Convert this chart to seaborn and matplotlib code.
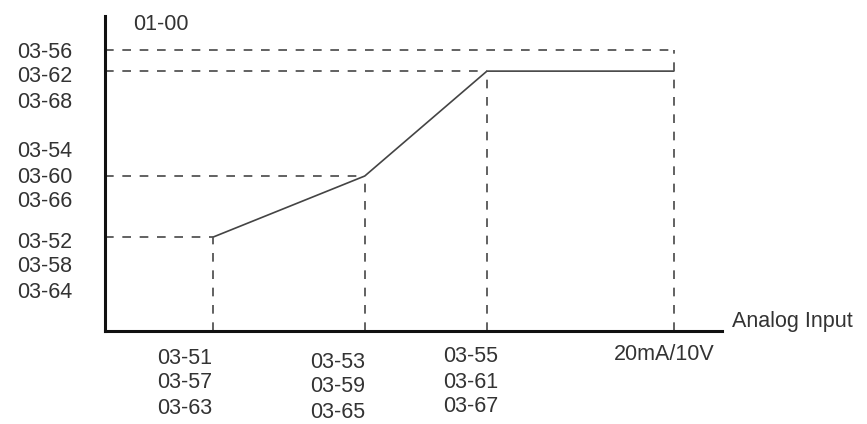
import matplotlib
matplotlib.use("Agg")
import matplotlib.pyplot as plt
import seaborn as sns
import pandas as pd

# ---- data ----
input_breaks = [17.5, 42.1, 61.9, 92.2]      # 03-51, 03-53, 03-55, 20mA/10V
output_levels = [29.8, 49.2, 82.5, 82.5]      # 03-52, 03-60, 03-62, held to max input
max_output = 89.2                             # 03-56 level (01-00)

y_label_groups = [["03-56", "03-62", "03-68"],
                  ["03-54", "03-60", "03-66"],
                  ["03-52", "03-58", "03-64"]]
x_label_groups = [["03-51", "03-57", "03-63"],
                  ["03-53", "03-59", "03-65"],
                  ["03-55", "03-61", "03-67"],
                  ["20mA/10V"]]
y_axis_title = "01-00"
x_axis_title = "Analog Input"

# ---- style ----
sns.set_style("white")
plt.rcParams['font.family'] = ['Liberation Sans', 'DejaVu Sans']

W, H = 867, 424
fig = plt.figure(figsize=(W / 100, H / 100), dpi=100)
ax = fig.add_axes([105 / W, (H - 331) / H, 617 / W, 315 / H])
ax.set_xlim(0, 100)
ax.set_ylim(0, 100)

def px(x, y):
    return (x / W, 1 - y / H)

df = pd.DataFrame({"input": input_breaks, "output": output_levels})
sns.lineplot(data=df, x="input", y="output", color="#444444", lw=1.2, ax=ax)

dash_kw = dict(colors="#555555", linewidth=1.3, linestyles=(0, (4.8, 4.8)))
# horizontal guides
ax.hlines(output_levels[:3], 0, input_breaks[:3], **dash_kw)
ax.hlines([max_output], 0, [input_breaks[3]], **dash_kw)
# vertical guides
v_tops = output_levels[:3] + [max_output]
ax.vlines(input_breaks, 0, v_tops, **dash_kw)

for s in ["top", "right"]:
    ax.spines[s].set_visible(False)
for s in ["left", "bottom"]:
    ax.spines[s].set_color("#111111")
    ax.spines[s].set_linewidth(2.2)
ax.set_xticks([])
ax.set_yticks([])
ax.set_xlabel("")
ax.set_ylabel("")

fs = 15.5
tc = "#333333"
# y labels
y_first = [52, 152, 242]
for grp, y0 in zip(y_label_groups, y_first):
    for i, lab in enumerate(grp):
        fig.text(*px(72, y0 + 25 * i), lab, ha="right", va="center",
                 fontsize=fs, color=tc)
# x labels
x_centers = [185, 338, 471, 664]
x_first = [358, 362, 357, 355]
for grp, xc, y0 in zip(x_label_groups, x_centers, x_first):
    for i, lab in enumerate(grp):
        fig.text(*px(xc, y0 + 25 * i), lab, ha="center", va="center",
                 fontsize=fs, color=tc)

fig.text(*px(133, 24), y_axis_title, ha="left", va="center", fontsize=fs, color=tc)
fig.text(*px(732, 322), x_axis_title, ha="left", va="center", fontsize=fs, color=tc)

fig.savefig("out.png", dpi=100, facecolor="white")
